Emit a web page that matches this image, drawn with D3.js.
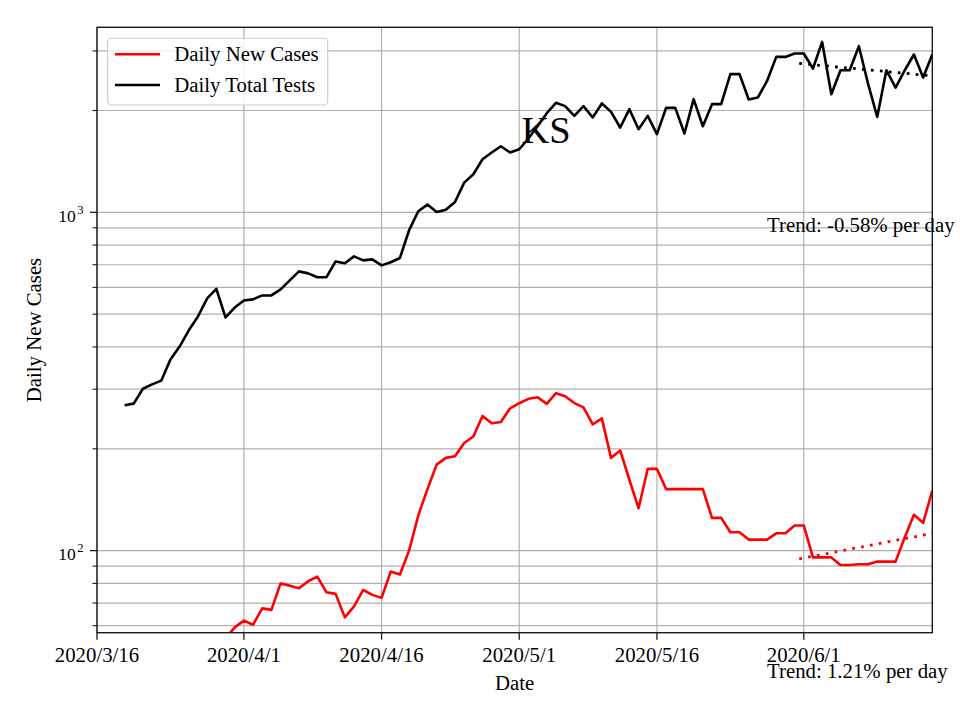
<!DOCTYPE html>
<html><head><meta charset="utf-8">
<script src="https://cdn.jsdelivr.net/npm/d3@7"></script>
<style>body{margin:0;background:#fff} svg{display:block} text{font-family:"Liberation Serif","Times New Roman",serif}</style>
</head><body><svg id="c" width="960" height="720"></svg>
<script>
// ---------- data ----------
const domainDates = ["2020-03-16", "2020-06-15"];
const testsStart = "2020-03-19";
const testsValues = [269, 272, 301, 310, 318, 367, 401, 448, 492, 557, 594, 489, 523, 549, 553, 568, 568, 592, 629, 669,
  660, 643, 643, 716, 707, 741, 721, 726, 697, 712, 733, 885, 1007, 1054, 1002, 1018, 1073, 1224, 1296, 1435,
  1502, 1568, 1502, 1536, 1652, 1797, 1964, 2107, 2060, 1928, 2060, 1907, 2098, 1981, 1781, 2018, 1761, 1928, 1702, 2036,
  2036, 1710, 2160, 1797, 2088, 2088, 2562, 2562, 2156, 2186, 2445, 2880, 2880, 2947, 2947, 2661, 3189, 2235, 2630, 2630,
  3098, 2402, 1913, 2630, 2337, 2630, 2927, 2503, 2927];
const casesStart = "2020-03-30";
const casesValues = [55, 59.3, 62.1, 60.4, 67.5, 66.8, 80.0, 78.8, 77.4, 81.2, 83.8, 75.3, 74.5, 63.5, 68.4, 76.5, 74.0, 72.5, 86.7, 85.0,
  100, 127, 152, 179.6, 188, 190, 208, 217.5, 250, 238, 240, 263.5, 272.7, 281, 284, 271.5, 292, 286, 273, 265,
  236, 246, 188, 197.7, 162, 133.4, 174.5, 174.5, 152, 152, 152, 152, 152, 125, 125, 113.3, 113.3, 107.8, 107.8, 107.8,
  112.5, 112.5, 118.6, 118.6, 95.5, 95.5, 95.5, 90.7, 90.7, 91.1, 91.1, 92.8, 92.8, 92.8, 109.5, 127.6, 120.8, 150.5];
const seriesNames = ["Daily New Cases", "Daily Total Tests"];
const seriesColors = ["#ff0000", "#000000"];
const xTickDates = ["2020-03-16", "2020-04-01", "2020-04-16", "2020-05-01", "2020-05-16", "2020-06-01"];
const xTickLabels = ["2020/3/16", "2020/4/1", "2020/4/16", "2020/5/1", "2020/5/16", "2020/6/1"];
const yMajorTicks = [100, 1000];
const yMajorLabels = [["10", "2"], ["10", "3"]];
const yMinorTicks = [60, 70, 80, 90, 200, 300, 400, 500, 600, 700, 800, 900, 2000, 3000];
const yDomain = [57.2, 3523];
const trendDates = ["2020-05-31T12:00", "2020-06-15T00:00"];
const testsTrend = [2755, 2532];
const casesTrend = [94.5, 112.5];
const trendLabelDate = "2020-05-28";
const trendLabels = ["Trend: -0.58% per day", "Trend: 1.21% per day"];
const trendLabelValues = [872, 42.0];
const chartTitle = "KS";
const xLabel = "Date";
const yLabel = "Daily New Cases";

// ---------- layout ----------
const svg = d3.select("#c");
const L = 97, R = 932.3, T = 27.3, B = 632.7;
const pd = d3.timeParse("%Y-%m-%d");
const pdt = d3.timeParse("%Y-%m-%dT%H:%M");
const x = d3.scaleTime().domain(domainDates.map(pd)).range([L, R]);
const y = d3.scaleLog().domain(yDomain).range([B, T]);
const gridColor = "#b0b0b0";

const testsData = testsValues.map((v, i) => ({ d: d3.timeDay.offset(pd(testsStart), i), v }));
const casesData = casesValues.map((v, i) => ({ d: d3.timeDay.offset(pd(casesStart), i), v }));

svg.append("defs").append("clipPath").attr("id", "clip")
  .append("rect").attr("x", L).attr("y", T).attr("width", R - L).attr("height", B - T);

// grid
const grid = svg.append("g");
grid.selectAll("line.gy").data(yMajorTicks.concat(yMinorTicks)).join("line")
  .attr("x1", L).attr("x2", R).attr("y1", d => y(d)).attr("y2", d => y(d))
  .attr("stroke", gridColor).attr("stroke-width", 1.2);
grid.selectAll("line.gx").data(xTickDates.map(pd)).join("line")
  .attr("x1", d => x(d)).attr("x2", d => x(d)).attr("y1", T).attr("y2", B)
  .attr("stroke", gridColor).attr("stroke-width", 1.2);

// lines
const line = d3.line().x(d => x(d.d)).y(d => y(d.v));
const plot = svg.append("g").attr("clip-path", "url(#clip)");
plot.append("path").datum(casesData).attr("d", line).attr("fill", "none")
  .attr("stroke", seriesColors[0]).attr("stroke-width", 2.6).attr("stroke-linejoin", "round");
plot.append("path").datum(testsData).attr("d", line).attr("fill", "none")
  .attr("stroke", seriesColors[1]).attr("stroke-width", 2.6).attr("stroke-linejoin", "round");

// trends
const tDates = trendDates.map(pdt);
[[testsTrend, seriesColors[1]], [casesTrend, seriesColors[0]]].forEach(([vals, col]) => {
  plot.append("path").datum(vals.map((v, i) => ({ d: tDates[i], v })))
    .attr("d", line).attr("fill", "none").attr("stroke", col)
    .attr("stroke-width", 2.8).attr("stroke-dasharray", "2.8 6.2");
});

// axes frame
svg.append("rect").attr("x", L).attr("y", T).attr("width", R - L).attr("height", B - T)
  .attr("fill", "none").attr("stroke", "#1a1a1a").attr("stroke-width", 1.4);

// x ticks
const xAxis = svg.append("g");
xTickDates.forEach((ds, i) => {
  const xx = x(pd(ds));
  xAxis.append("line").attr("x1", xx).attr("x2", xx).attr("y1", B).attr("y2", B + 7)
    .attr("stroke", "#1a1a1a").attr("stroke-width", 1.3);
  xAxis.append("text").attr("x", xx).attr("y", 661.7).attr("text-anchor", "middle")
    .attr("font-size", 20.8).text(xTickLabels[i]);
});

// y ticks
const yAxis = svg.append("g");
yMinorTicks.forEach(v => {
  yAxis.append("line").attr("x1", L - 4.5).attr("x2", L).attr("y1", y(v)).attr("y2", y(v))
    .attr("stroke", "#1a1a1a").attr("stroke-width", 1.1);
});
yMajorTicks.forEach((v, i) => {
  const yy = y(v);
  yAxis.append("line").attr("x1", L - 7).attr("x2", L).attr("y1", yy).attr("y2", yy)
    .attr("stroke", "#1a1a1a").attr("stroke-width", 1.3);
  const t = yAxis.append("text").attr("x", 83.5).attr("y", yy + 9.5).attr("text-anchor", "end").attr("font-size", 17.5);
  t.append("tspan").text(yMajorLabels[i][0]);
  t.append("tspan").attr("dy", -8).attr("dx", 1.5).attr("font-size", 12.5).text(yMajorLabels[i][1]);
});

// axis labels
svg.append("text").attr("x", (L + R) / 2).attr("y", 690).attr("text-anchor", "middle")
  .attr("font-size", 20.8).text(xLabel);
svg.append("text").attr("transform", `translate(41,${(T + B) / 2}) rotate(-90)`)
  .attr("text-anchor", "middle").attr("font-size", 20.8).text(yLabel);

// title
svg.append("text").attr("x", 546).attr("y", 143.3).attr("text-anchor", "middle")
  .attr("font-size", 38.5).text(chartTitle);

// trend labels
trendLabels.forEach((lab, i) => {
  svg.append("text").attr("x", x(pd(trendLabelDate))).attr("y", y(trendLabelValues[i]))
    .attr("font-size", 20.8).text(lab);
});

// legend
const lg = svg.append("g");
lg.append("rect").attr("x", 107.7).attr("y", 38.3).attr("width", 220).attr("height", 66.7)
  .attr("rx", 4).attr("fill", "#fff").attr("fill-opacity", 0.8).attr("stroke", "#cccccc").attr("stroke-width", 1.1);
seriesNames.forEach((n, i) => {
  const yy = 54.3 + i * 30.7;
  lg.append("line").attr("x1", 115).attr("x2", 160).attr("y1", yy).attr("y2", yy)
    .attr("stroke", seriesColors[i]).attr("stroke-width", 2.6);
  lg.append("text").attr("x", 174.3).attr("y", yy + 7).attr("font-size", 20.8).text(n);
});
</script></body></html>
